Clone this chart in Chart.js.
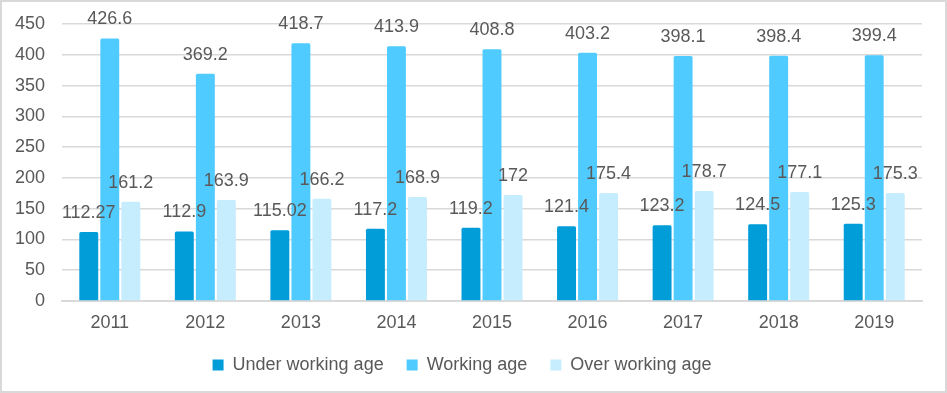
<!DOCTYPE html>
<html>
<head>
<meta charset="utf-8">
<script src="https://cdn.jsdelivr.net/npm/chart.js@4"></script>
<style>
  html, body { margin: 0; padding: 0; background: #fff; }
  .wrap {
    width: 947px; height: 393px; box-sizing: border-box;
    border: 2px solid #d9d9d9; background: #fff;
  }
</style>
</head>
<body>
<div class="wrap"><canvas id="myChart"></canvas></div>
<script>
// categories and series
const years = ['2011', '2012', '2013', '2014', '2015', '2016', '2017', '2018', '2019'];
const underWorkingAge = [112.27, 112.9, 115.02, 117.2, 119.2, 121.4, 123.2, 124.5, 125.3];
const workingAge = [426.6, 369.2, 418.7, 413.9, 408.8, 403.2, 398.1, 398.4, 399.4];
const overWorkingAge = [161.2, 163.9, 166.2, 168.9, 172, 175.4, 178.7, 177.1, 175.3];
const yTicks = [0, 50, 100, 150, 200, 250, 300, 350, 400, 450];

const textColor = '#595959';
const fontFamily = '"Liberation Sans", Arial, sans-serif';

// value labels above each bar
const barLabels = {
  id: 'barLabels',
  afterDatasetsDraw(chart) {
    const ctx = chart.ctx;
    ctx.save();
    ctx.font = '18px ' + fontFamily;
    ctx.fillStyle = textColor;
    ctx.textAlign = 'center';
    ctx.textBaseline = 'middle';
    chart.data.datasets.forEach((ds, i) => {
      chart.getDatasetMeta(i).data.forEach((bar, j) => {
        ctx.fillText(String(ds.data[j]), bar.x, bar.y - 19);
      });
    });
    ctx.restore();
  }
};

const data = {
  labels: years,
  datasets: [
    { label: 'Under working age', data: underWorkingAge, backgroundColor: '#009dd9' },
    { label: 'Working age', data: workingAge, backgroundColor: '#4fcbff' },
    { label: 'Over working age', data: overWorkingAge, backgroundColor: '#c6edfd' }
  ]
};

const config = {
  type: 'bar',
  data,
  plugins: [barLabels],
  options: {
    responsive: true,
    maintainAspectRatio: false,
    animation: false,
    layout: { padding: { top: 22, right: 23, bottom: 7 } },
    datasets: {
      bar: {
        categoryPercentage: 0.66,
        barPercentage: 0.9,
        borderRadius: { topLeft: 1.5, topRight: 1.5 }
      }
    },
    scales: {
      x: {
        afterFit(scale) { scale.height = 32; },
        grid: { display: false, drawTicks: false },
        border: { color: '#d9d9d9', width: 2 },
        ticks: { color: textColor, font: { size: 18, family: fontFamily }, padding: 11 }
      },
      y: {
        min: 0,
        max: 450,
        afterBuildTicks(scale) { scale.ticks = yTicks.map(v => ({ value: v })); },
        afterFit(scale) {
          scale.width = 60;
          scale.paddingTop = 10;
          scale.paddingBottom = 10;
        },
        border: { display: false },
        grid: { color: '#d9d9d9', lineWidth: 1.5, drawTicks: false },
        ticks: { color: textColor, font: { size: 18, family: fontFamily }, padding: 17 }
      }
    },
    plugins: {
      tooltip: { enabled: false },
      legend: {
        position: 'bottom',
        labels: {
          color: textColor,
          font: { size: 18, family: fontFamily },
          boxWidth: 11,
          boxHeight: 11,
          padding: 23
        }
      }
    }
  }
};

const myChart = new Chart(document.getElementById('myChart'), config);
</script>
</body>
</html>
